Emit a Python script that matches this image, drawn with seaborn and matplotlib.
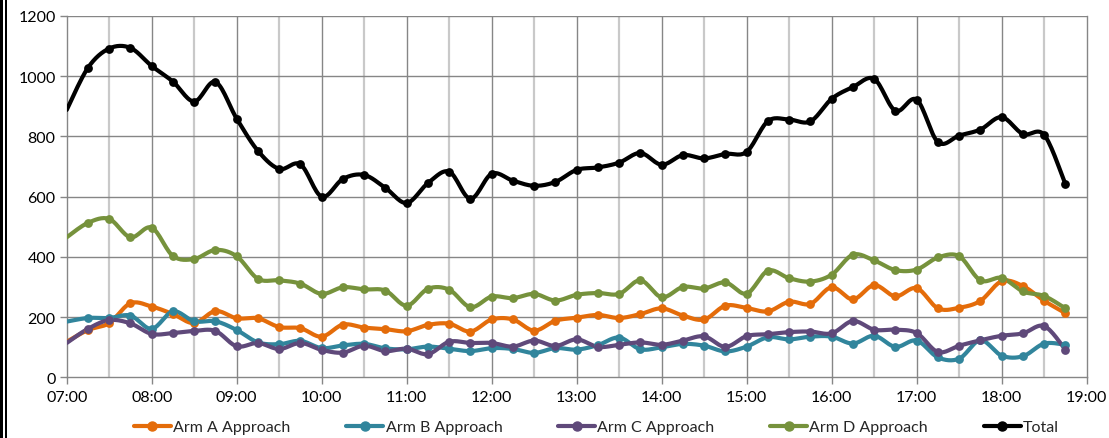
import numpy as np
import pandas as pd
import matplotlib
matplotlib.use("Agg")
import matplotlib.pyplot as plt
from matplotlib.lines import Line2D
from matplotlib.ticker import FixedLocator, FuncFormatter
import seaborn as sns

# 15-minute intervals from 07:00 to 18:45 (hours as decimals)
times = np.arange(7.0, 19.0, 0.25)

arm_a = [118, 157, 180, 246, 235, 210, 180, 220, 196, 196, 167, 163, 135,
         175, 165, 160, 153, 174, 178, 152, 192, 192, 155, 188, 198,
         207, 197, 210, 229, 205, 192, 238, 230, 219, 251, 244, 299,
         259, 306, 269, 296, 229, 231, 254, 319, 303, 254, 213]
arm_b = [185, 197, 197, 205, 161, 219, 186, 186, 157, 116, 110, 121, 97,
         106, 111, 96, 93, 102, 95, 87, 97, 94, 81, 97, 92,
         107, 132, 93, 100, 111, 105, 86, 102, 133, 126, 135, 135,
         112, 138, 101, 122, 66, 62, 123, 72, 70, 112, 108]
arm_c = [114, 161, 190, 179, 144, 147, 154, 154, 103, 114, 94, 114, 91,
         82, 105, 87, 95, 77, 118, 114, 114, 102, 122, 104, 126,
         101, 108, 116, 108, 122, 136, 101, 137, 143, 150, 152, 146,
         187, 158, 158, 147, 84, 105, 123, 138, 146, 170, 92]
arm_d = [465, 513, 526, 465, 497, 403, 393, 423, 402, 327, 322, 311, 277,
         299, 292, 288, 238, 294, 291, 233, 268, 263, 277, 255, 274,
         280, 277, 322, 266, 300, 295, 315, 278, 354, 329, 318, 341,
         407, 388, 356, 358, 398, 402, 322, 330, 285, 270, 229]
total = [888, 1028, 1092, 1094, 1034, 982, 916, 981, 859, 752, 692, 707, 600,
         659, 672, 629, 579, 645, 683, 593, 676, 653, 636, 649, 689,
         697, 713, 745, 706, 738, 727, 742, 749, 851, 856, 850, 925,
         964, 991, 885, 922, 781, 803, 823, 864, 808, 805, 641]

series_names = ["Arm A Approach", "Arm B Approach", "Arm C Approach",
                "Arm D Approach", "Total"]
series_values = [arm_a, arm_b, arm_c, arm_d, total]
colors = ["#E46C0A", "#31859C", "#5F497A", "#76923C", "#000000"]


def smooth_curve(x, y, steps=16):
    """Bezier smoothing through every point (Catmull-Rom style tangents)."""
    x = np.asarray(x, float)
    y = np.asarray(y, float)
    n = len(x)
    xs, ys = [], []
    t = np.linspace(0, 1, steps, endpoint=False)
    for i in range(n - 1):
        i0 = max(i - 1, 0)
        i3 = min(i + 2, n - 1)
        p0 = np.array([x[i0], y[i0]])
        p1 = np.array([x[i], y[i]])
        p2 = np.array([x[i + 1], y[i + 1]])
        p3 = np.array([x[i3], y[i3]])
        c1 = p1 + (p2 - p0) / 6.0
        c2 = p2 - (p3 - p1) / 6.0
        b = ((1 - t) ** 3)[:, None] * p1 + (3 * (1 - t) ** 2 * t)[:, None] * c1 \
            + (3 * (1 - t) * t ** 2)[:, None] * c2 + (t ** 3)[:, None] * p2
        xs.append(b[:, 0])
        ys.append(b[:, 1])
    xs.append([x[-1]])
    ys.append([y[-1]])
    return np.concatenate(xs), np.concatenate(ys)


sns.set_theme(style="white")
plt.rcParams["font.family"] = ["Lato", "DejaVu Sans"]

W, H = 1109, 439
fig = plt.figure(figsize=(W / 100, H / 100), dpi=100)
left, right, top, bottom = 66.7, 1086.7, 17.0, 378.3
ax = fig.add_axes([left / W, 1 - bottom / H, (right - left) / W, (bottom - top) / H])

# gridlines: light half-hour lines, darker hour lines and value lines
for hx in np.arange(7.5, 19.0, 1.0):
    ax.axvline(hx, color="#c9c9c9", lw=1.6, zorder=0)
for hx in np.arange(8.0, 19.0, 1.0):
    ax.axvline(hx, color="#868686", lw=1.0, zorder=0)
for gy in range(200, 1201, 200):
    ax.axhline(gy, color="#868686", lw=1.0, zorder=0)

dense_frames = []
point_frames = []
for name, vals in zip(series_names, series_values):
    sx, sy = smooth_curve(times, vals)
    dense_frames.append(pd.DataFrame({"time": sx, "count": sy, "series": name}))
    point_frames.append(pd.DataFrame({"time": times[1:], "count": vals[1:],
                                      "series": name}))

dense = pd.concat(dense_frames, ignore_index=True)
points = pd.concat(point_frames, ignore_index=True)
palette = dict(zip(series_names, colors))

for name in series_names:
    d = dense[dense["series"] == name]
    p = points[points["series"] == name]
    sns.lineplot(data=d, x="time", y="count", color=palette[name], lw=3.0,
                 sort=False, ax=ax, zorder=3, legend=False)
    sns.scatterplot(data=p, x="time", y="count", color=palette[name], s=40,
                    linewidth=0, ax=ax, zorder=4, legend=False)

ax.set_xlim(7.0, 19.0)
ax.set_ylim(0, 1200)
ax.xaxis.set_major_locator(FixedLocator(np.arange(7.0, 19.01, 1.0)))
ax.xaxis.set_major_formatter(FuncFormatter(lambda v, _: f"{int(round(v)):02d}:00"))
ax.yaxis.set_major_locator(FixedLocator(np.arange(0, 1201, 200)))
ax.set_xlabel("")
ax.set_ylabel("")

for side in ["left", "bottom", "right"]:
    ax.spines[side].set_visible(True)
    ax.spines[side].set_color("#868686")
    ax.spines[side].set_linewidth(1.0)
ax.spines["top"].set_visible(False)
ax.tick_params(axis="x", direction="out", length=5, width=1.0, color="#868686",
               labelsize=11.5, pad=4, labelcolor="#000000")
ax.tick_params(axis="y", direction="out", length=5, width=1.0, color="#868686",
               labelsize=11.5, pad=3, labelcolor="#000000")
ax.tick_params(bottom=True, left=True)

handles = [Line2D([0], [0], color=c, lw=3.0, marker="o", markersize=6.5)
           for c in colors]
fig.legend(handles, series_names, ncol=5, loc="center",
           bbox_to_anchor=(0.538, 1 - 428 / H), frameon=False, fontsize=11.5,
           handlelength=2.3, handletextpad=0.15, columnspacing=3.5,
           borderaxespad=0)

# dark double rule along the left edge of the image
fig.add_artist(plt.Rectangle((0, 0), 2.6 / W, 1, transform=fig.transFigure,
                             color="black", lw=0))
fig.add_artist(plt.Rectangle((5.0 / W, 0), 2.0 / W, 1, transform=fig.transFigure,
                             color="black", lw=0))

fig.savefig("out.png", dpi=100)
